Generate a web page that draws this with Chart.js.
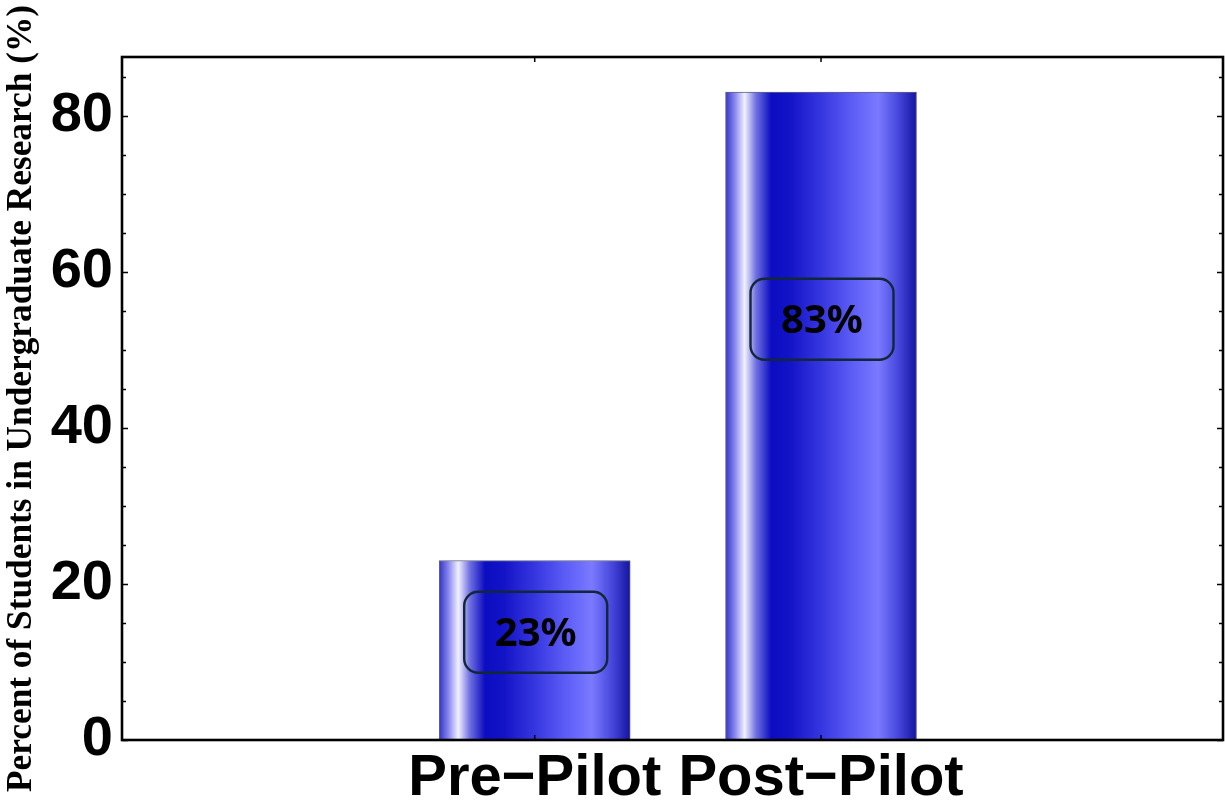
<!DOCTYPE html>
<html>
<head>
<meta charset="utf-8">
<script src="https://cdn.jsdelivr.net/npm/chart.js@4.4.1/dist/chart.umd.min.js"></script>
<style>
  html, body { margin: 0; padding: 0; background: #ffffff; }
  #wrap { width: 1225px; height: 803px; position: relative; }
</style>
</head>
<body>
<div id="wrap"><canvas id="c" width="1225" height="803"></canvas></div>
<script>
// ---- data ----
const categories = ['Pre\u2212Pilot', 'Post\u2212Pilot'];
const percentValues = [23, 83];
const valueLabels = ['23%', '83%'];
const yTickLabels = [0, 20, 40, 60, 80];
const yAxisTitle = 'Percent of Students in Undergraduate Research (%)';

const barPoints = categories.map((c, i) => ({ x: i + 1, y: percentValues[i] }));

// cylinder-like gradient for each bar
function barGradient(ctx) {
  const chart = ctx.chart;
  const xs = chart.scales && chart.scales.x;
  if (!xs || !ctx.raw) return '#3a3ad8';
  const cx = xs.getPixelForValue(ctx.raw.x);
  if (!isFinite(cx)) return '#3a3ad8';
  const half = 191 / 2;
  const g = chart.ctx.createLinearGradient(cx - half, 0, cx + half, 0);
  g.addColorStop(0.00, '#3434c8');
  g.addColorStop(0.05, '#8a8aee');
  g.addColorStop(0.10, '#f0f0ff');
  g.addColorStop(0.16, '#7070e2');
  g.addColorStop(0.24, '#0c0cc2');
  g.addColorStop(0.33, '#1212c6');
  g.addColorStop(0.50, '#3636e0');
  g.addColorStop(0.66, '#5c5cf6');
  g.addColorStop(0.80, '#7a7aff');
  g.addColorStop(0.91, '#4444da');
  g.addColorStop(1.00, '#1414a0');
  return g;
}

// frame with inward ticks, drawn from the chart's scales
const framePlugin = {
  id: 'frame',
  afterDatasetsDraw(chart) {
    const { ctx, chartArea: a, scales: { x, y } } = chart;
    ctx.save();
    ctx.strokeStyle = '#000';
    ctx.lineWidth = 1.5;
    ctx.beginPath();
    for (let v = 0; v <= y.max; v += 5) {
      const py = Math.round(y.getPixelForValue(v)) + 0.5;
      const len = (v % 20 === 0) ? 6 : 4;
      ctx.moveTo(a.left, py); ctx.lineTo(a.left + len, py);
      ctx.moveTo(a.right, py); ctx.lineTo(a.right - len, py);
    }
    categories.forEach((c, i) => {
      const px = x.getPixelForValue(i + 1);
      ctx.moveTo(px, a.bottom); ctx.lineTo(px, a.bottom - 5);
      ctx.moveTo(px, a.top); ctx.lineTo(px, a.top + 5);
    });
    ctx.stroke();
    ctx.lineWidth = 2.6;
    ctx.strokeRect(a.left, a.top, a.right - a.left, a.bottom - a.top);
    ctx.restore();
  }
};

// boxed value labels inside the bars
const boxLabelPlugin = {
  id: 'boxLabels',
  afterDatasetsDraw(chart, args, opts) {
    const { ctx, scales: { x, y } } = chart;
    ctx.save();
    categories.forEach((c, i) => {
      const cx = x.getPixelForValue(i + 1) + 1;
      const cy = y.getPixelForValue(opts.anchors[i]);
      const w = 143, h = 81, r = 14;
      ctx.beginPath();
      ctx.roundRect(cx - w / 2, cy - h / 2, w, h, r);
      ctx.lineWidth = 2.4;
      ctx.strokeStyle = '#12283a';
      ctx.stroke();
      ctx.fillStyle = '#000';
      ctx.font = 'bold 40px "Noto Sans", "Open Sans", sans-serif';
      ctx.textAlign = 'center';
      ctx.textBaseline = 'middle';
      ctx.fillText(valueLabels[i], cx, cy + 2);
    });
    ctx.restore();
  }
};

const chart = new Chart(document.getElementById('c'), {
  type: 'bar',
  data: {
    datasets: [{
      data: barPoints,
      backgroundColor: barGradient,
      borderColor: 'rgba(70,70,110,0.85)',
      borderWidth: 1,
      barThickness: 191
    }]
  },
  plugins: [framePlugin, boxLabelPlugin],
  options: {
    responsive: false,
    animation: false,
    layout: { padding: { top: 57, right: 2, left: 0, bottom: 0 } },
    plugins: {
      legend: { display: false },
      tooltip: { enabled: false },
      boxLabels: { anchors: [13.8, 53.9] }
    },
    scales: {
      x: {
        type: 'linear',
        offset: false,
        min: -0.4415,
        max: 3.404,
        afterFit(s) { s.height = 63; },
        afterBuildTicks(s) { s.ticks = categories.map((c, i) => ({ value: i + 1 })); },
        grid: { display: false, drawTicks: false, offset: false },
        border: { display: false },
        ticks: {
          autoSkip: false,
          maxRotation: 0,
          padding: 4,
          color: '#000',
          font: { family: '"Liberation Sans", Arial, sans-serif', size: 58, weight: 'bold' },
          callback: (v) => categories[v - 1] ?? ''
        }
      },
      y: {
        min: 0,
        max: 87.5,
        afterFit(s) { s.width = 122; },
        grid: { display: false, drawTicks: false },
        border: { display: false },
        ticks: {
          stepSize: 5,
          padding: 9,
          color: '#000',
          font: { family: '"Liberation Sans", Arial, sans-serif', size: 56, weight: 'bold' },
          callback: (v) => yTickLabels.includes(v) ? String(v) : ''
        },
        title: {
          display: true,
          text: yAxisTitle,
          color: '#000',
          padding: { top: 1, bottom: 0 },
          font: { family: '"Liberation Serif", "Times New Roman", serif', size: 35.3, weight: 'bold' }
        }
      }
    }
  }
});
chart.update();
</script>
</body>
</html>
